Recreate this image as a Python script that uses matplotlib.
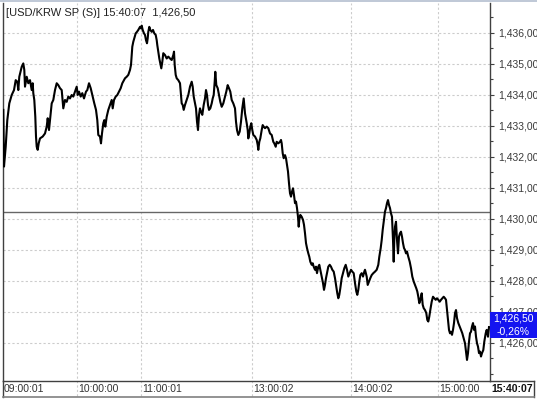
import matplotlib
matplotlib.use('Agg')
import matplotlib.pyplot as plt
import matplotlib.ticker as ticker
import matplotlib.transforms as mtransforms
from matplotlib.lines import Line2D
from matplotlib.patches import Rectangle

plt.rcParams['font.family'] = ['Liberation Sans', 'DejaVu Sans']

# ============================================================
# 데이터 (틱 순번 위치 / 체결가)
# ============================================================
TITLE = '[USD/KRW SP (S)] 15:40:07  '
PREV_CLOSE = 1430.2

pos_am = [
    0.3, 1.0, 2.7, 4.3, 6.3, 8.7, 11.0, 12.7, 14.3, 15.3,
    16.3, 18.7, 20.3, 21.3, 22.0, 23.7, 25.3, 27.0, 28.7, 29.7,
    30.3, 31.3, 32.3, 33.0, 33.7, 34.7, 35.7, 37.0, 39.7, 42.0,
    43.7, 44.7, 46.0, 47.0, 48.7, 50.3, 52.0, 53.7, 55.3, 57.0,
    58.7, 60.3, 62.0, 63.7, 65.3, 67.0, 68.7, 70.3, 72.0, 73.7,
    74.7, 76.0, 77.7, 79.3, 81.0, 83.0, 84.3, 86.0, 87.7, 89.7,
    91.3, 93.0, 94.3, 95.3, 97.0, 98.0, 99.0, 100.3, 101.3, 102.3,
    103.7, 105.3, 107.0, 108.7, 109.7, 111.0, 112.7, 114.3, 116.0, 117.7,
    119.3, 121.0,
]
price_am = [
    1433.51, 1431.68, 1432.32, 1433.18, 1433.72, 1433.99, 1434.15, 1434.47, 1434.42, 1434.15,
    1434.58, 1434.90, 1435.01, 1434.80, 1434.26, 1434.58, 1434.37, 1434.47, 1434.15, 1434.37,
    1434.05, 1433.83, 1433.29, 1432.65, 1432.32, 1432.22, 1432.43, 1432.59, 1432.65, 1432.75,
    1432.97, 1433.24, 1432.86, 1433.18, 1433.72, 1433.83, 1434.15, 1434.37, 1434.31, 1434.21,
    1434.15, 1433.56, 1433.83, 1433.77, 1433.94, 1433.88, 1433.99, 1433.94, 1434.10, 1434.26,
    1433.99, 1434.10, 1433.94, 1434.05, 1433.88, 1434.10, 1434.15, 1434.37, 1434.21, 1433.94,
    1433.72, 1433.51, 1433.18, 1432.70, 1432.65, 1432.43, 1432.75, 1433.08, 1433.18, 1432.97,
    1433.29, 1433.51, 1433.67, 1433.83, 1433.56, 1433.83, 1433.94, 1433.99, 1434.10, 1434.21,
    1434.37, 1434.47,
]

pos_mid = [
    122.0, 123.7, 125.3, 127.0, 128.0, 128.7, 129.3, 130.3, 131.3, 132.7,
    134.0, 135.3, 137.0, 138.0, 138.7, 139.7, 141.0, 142.0, 143.0, 144.0,
    144.7, 145.3, 146.3, 147.3, 148.7, 150.0, 151.3, 152.7, 153.7, 154.3,
    155.3, 156.3, 157.3, 158.3, 159.3, 160.3, 162.0, 163.7, 165.3, 167.0,
    168.7, 170.3, 171.0, 171.7, 172.7, 173.7, 175.3, 177.0, 178.0, 178.7,
    179.7, 180.7, 182.0, 183.7, 185.3, 187.0, 188.7, 189.7, 190.7, 192.0,
    193.0, 194.0, 195.0, 196.0, 197.0, 198.0, 199.3, 200.7, 202.0, 203.0,
    204.0, 205.0, 206.0, 207.3, 208.7, 209.7, 210.7, 211.7, 212.3, 213.3,
    214.7, 216.0, 217.3, 218.7, 220.3, 222.0, 223.3, 224.7, 226.0, 227.3,
    228.7, 230.3, 232.0, 233.0, 234.0, 235.3, 236.7, 238.0, 239.3, 240.7,
]
price_mid = [
    1434.53, 1434.58, 1434.64, 1434.80, 1434.96, 1435.28, 1435.55, 1435.71, 1435.82, 1435.98,
    1436.03, 1436.09, 1436.19, 1436.14, 1436.23, 1436.09, 1435.98, 1435.93, 1435.76, 1435.66,
    1435.82, 1436.03, 1436.19, 1436.09, 1436.03, 1436.09, 1435.98, 1435.93, 1435.76, 1435.60,
    1435.39, 1435.17, 1435.01, 1434.85, 1435.06, 1435.34, 1435.28, 1435.17, 1435.23, 1435.17,
    1435.12, 1435.28, 1435.39, 1434.96, 1434.64, 1434.53, 1434.47, 1434.37, 1433.99, 1433.72,
    1433.67, 1433.51, 1433.67, 1433.83, 1433.99, 1434.26, 1434.42, 1434.26, 1433.94, 1433.72,
    1433.56, 1433.13, 1432.86, 1433.35, 1433.56, 1433.45, 1433.35, 1433.67, 1433.88, 1434.15,
    1433.99, 1433.67, 1433.51, 1433.56, 1433.72, 1433.88, 1433.99, 1434.42, 1434.74, 1434.31,
    1434.21, 1433.99, 1433.77, 1433.61, 1433.72, 1433.94, 1434.10, 1434.31, 1434.21, 1434.10,
    1433.83, 1433.72, 1433.56, 1433.13, 1432.86, 1432.70, 1432.81, 1433.13, 1433.56, 1433.88,
]

pos_pm = [
    242.0, 243.7, 244.7, 245.3, 246.3, 247.3, 248.3, 249.3, 250.3, 252.0,
    253.7, 254.7, 255.3, 256.3, 257.3, 258.7, 259.7, 260.7, 262.0, 263.7,
    265.3, 267.0, 268.7, 270.3, 271.3, 272.7, 273.7, 275.3, 277.0, 278.0,
    278.7, 279.7, 280.7, 282.0, 283.0, 284.0, 285.0, 286.0, 287.0, 288.0,
    289.0, 290.0, 291.0, 292.0, 293.0, 294.0, 295.0, 295.7, 296.3, 297.3,
    298.7, 300.0, 301.0, 302.0, 303.0, 304.0, 305.3, 306.3, 307.3, 308.7,
    309.7, 310.7, 312.0, 313.0, 314.0, 315.3, 316.3, 317.3, 318.7, 320.0,
    321.0, 322.0, 323.0, 324.0, 325.3, 326.7, 328.0, 329.3, 330.7, 332.0,
    333.3, 334.3, 335.3, 336.3, 337.3, 338.7, 340.0, 341.3, 342.7, 344.0,
    345.3, 346.7, 348.0, 349.3, 350.7, 352.0, 353.3, 354.3, 355.3, 356.3,
    357.3, 358.7, 360.0, 361.3,
]
price_pm = [
    1433.40, 1433.08, 1432.86, 1432.59, 1432.75, 1432.97, 1433.08, 1432.86, 1432.70, 1432.65,
    1432.54, 1432.38, 1432.22, 1432.48, 1432.59, 1432.86, 1433.02, 1432.97, 1432.92, 1432.97,
    1432.92, 1432.75, 1432.70, 1432.48, 1432.43, 1432.32, 1432.48, 1432.43, 1432.48, 1432.54,
    1432.43, 1432.11, 1431.95, 1432.05, 1431.95, 1431.73, 1431.52, 1431.14, 1430.82, 1430.71,
    1430.87, 1430.98, 1430.76, 1430.50, 1430.55, 1430.34, 1430.06, 1429.74, 1429.96, 1430.12,
    1430.06, 1429.96, 1429.80, 1429.53, 1429.21, 1429.05, 1428.88, 1428.77, 1428.61, 1428.51,
    1428.56, 1428.45, 1428.35, 1428.45, 1428.24, 1428.45, 1428.51, 1428.35, 1428.13, 1427.92,
    1427.70, 1427.86, 1428.08, 1428.24, 1428.45, 1428.51, 1428.45, 1428.35, 1428.29, 1428.08,
    1427.81, 1427.59, 1427.43, 1427.54, 1427.75, 1428.08, 1428.24, 1428.40, 1428.51, 1428.35,
    1428.13, 1428.24, 1428.35, 1428.29, 1428.24, 1427.92, 1427.65, 1427.54, 1427.70, 1427.97,
    1428.18, 1428.24, 1428.13, 1428.29,
]

pos_close = [
    362.0, 363.7, 364.7, 366.0, 367.3, 368.7, 370.3, 372.0, 373.7, 375.3,
    376.3, 377.7, 378.7, 379.7, 381.0, 382.0, 383.0, 384.0, 385.0, 386.0,
    387.0, 388.0, 389.0, 390.0, 390.7, 391.3, 392.0, 393.0, 394.0, 395.0,
    396.0, 397.0, 398.0, 399.0, 400.0, 401.0, 402.0, 403.0, 404.0, 405.3,
    406.7, 408.0, 409.3, 410.7, 412.0, 413.3, 414.3, 415.3, 416.3, 417.3,
    418.7, 419.7, 420.7, 422.0, 423.3, 424.3, 425.3, 426.3, 427.3, 428.7,
    430.0, 431.3, 432.7, 434.0, 435.3, 436.7, 438.0, 439.3, 440.7, 442.0,
    443.0, 444.0, 445.0, 446.0, 447.0, 448.0, 449.0, 450.0, 451.0, 452.0,
    453.0, 454.0, 455.3, 456.7, 458.0, 459.3, 460.7, 462.0, 463.0, 464.0,
    465.0, 466.0, 467.0, 468.0, 469.0, 470.0, 471.0, 472.0, 473.0, 474.0,
    475.0, 476.0, 477.0, 478.0, 479.0, 480.3, 481.3, 482.7, 483.7, 485.0,
    486.0,
]
price_close = [
    1428.35, 1428.13, 1427.86, 1427.97, 1428.08, 1428.18, 1428.24, 1428.29, 1428.35, 1428.51,
    1428.77, 1429.05, 1429.31, 1429.64, 1429.96, 1430.23, 1430.34, 1430.50, 1430.60, 1430.44,
    1430.34, 1430.17, 1430.06, 1429.31, 1428.61, 1429.31, 1429.74, 1429.90, 1429.31, 1428.88,
    1429.42, 1429.53, 1429.58, 1429.42, 1429.21, 1429.05, 1428.99, 1428.88, 1428.94, 1428.77,
    1428.61, 1428.40, 1428.13, 1427.97, 1427.86, 1427.75, 1427.65, 1427.48, 1427.27, 1427.38,
    1427.59, 1427.22, 1427.11, 1427.05, 1426.95, 1426.73, 1426.68, 1426.84, 1427.05, 1427.32,
    1427.48, 1427.43, 1427.38, 1427.43, 1427.38, 1427.32, 1427.38, 1427.43, 1427.48, 1427.43,
    1427.38, 1427.05, 1426.73, 1426.41, 1426.30, 1426.35, 1426.25, 1426.41, 1426.63, 1426.95,
    1427.05, 1426.79, 1426.63, 1426.52, 1426.41, 1426.30, 1426.14, 1425.98, 1425.71, 1425.44,
    1425.66, 1426.03, 1426.30, 1426.35, 1426.52, 1426.63, 1426.41, 1426.52, 1426.19, 1425.98,
    1425.87, 1425.66, 1425.71, 1425.55, 1425.66, 1425.76, 1426.03, 1426.30, 1426.41, 1426.19,
    1426.50,
]

time_ticks = [0, 74, 138, 249, 348, 435]
time_labels = ['09:00:01', '10:00:00', '11:00:01', '13:00:02', '14:00:02', '15:00:00']
last_time = '15:40:07'
price_levels = [1426, 1427, 1428, 1429, 1430, 1431, 1432, 1433, 1434, 1435, 1436]

pos = pos_am + pos_mid + pos_pm + pos_close
price = price_am + price_mid + price_pm + price_close
last = price[-1]
chg = (last - PREV_CLOSE) / PREV_CLOSE * 100


def kfmt(v, nd=2):
    # 소수점 표시를 콤마로
    return f'{v:,.{nd}f}'.replace('.', ',')


# ============================================================
# 그림
# ============================================================
W, H = 537, 399
fig = plt.figure(figsize=(W / 100, H / 100), dpi=100)
fig.patch.set_facecolor('white')
ax = fig.add_axes([3 / W, 1 - 381 / H, (489.5 - 3) / W, (381 - 3) / H])

FRAME = '#404040'
GRID = '#cccccc'

ax.plot(pos, price, color='black', linewidth=1.5, zorder=3)
ax.axhline(PREV_CLOSE, color='#666666', linewidth=1.0, zorder=2)

ax.set_xlim(0, 486.5)
ax.set_ylim(1424.76, 1436.96)

ax.spines['top'].set_visible(False)
for s in ['left', 'right', 'bottom']:
    ax.spines[s].set_color(FRAME)
    ax.spines[s].set_linewidth(1.0)

# y 축 (오른쪽)
ax.yaxis.tick_right()
ax.set_yticks(price_levels)
ax.yaxis.set_minor_locator(ticker.MultipleLocator(0.5))
ax.yaxis.set_major_formatter(ticker.FuncFormatter(lambda v, p: kfmt(v)))
ax.tick_params(axis='y', which='major', direction='out', length=3, width=0.8,
               color=FRAME, pad=3, labelsize=7.5, labelcolor='#3a3a3a')
ax.tick_params(axis='y', which='minor', direction='out', length=2, width=0.8, color=FRAME)
ax.grid(axis='y', which='major', color=GRID, linestyle=(0, (2, 2)), linewidth=0.8)

# x 축
ax.set_xticks([])
trans = mtransforms.blended_transform_factory(ax.transData, ax.transAxes)
for tp, tl in zip(time_ticks, time_labels):
    if tp > 0:
        ax.add_line(Line2D([tp, tp], [-0.04, 1], transform=trans, color=GRID,
                           linestyle=(0, (2, 2)), linewidth=0.8, clip_on=False, zorder=1))
    ax.text(tp + 1, -0.02, tl, transform=trans, ha='left', va='center',
            fontsize=7.5, color='#333333')
fig.text(533 / W, 1 - 388.5 / H, last_time, ha='right', va='center',
         fontsize=7.5, fontweight='bold', color='#111111')

# 프레임
def fline(x0, y0, x1, y1, color, lw=1.0):
    fig.add_artist(Line2D([x0 / W, x1 / W], [1 - y0 / H, 1 - y1 / H],
                          color=color, linewidth=lw))

fline(0, 1.2, W, 1.2, '#b4bfcf', 1.2)
fline(3, 381, 3, 396.5, FRAME)
fline(489.5, 381, 534, 381, FRAME)
fline(533.5, 381, 533.5, 396.5, FRAME)
fline(3, 396.5, 534, 396.5, '#808080', 1.2)

# 현재가 박스
btrans = mtransforms.blended_transform_factory(fig.transFigure, ax.transData)
ax.add_patch(Rectangle((490 / W, last - 0.36), 47 / W, 0.84, transform=btrans,
                       facecolor='#1414f0', edgecolor='none', clip_on=False, zorder=5))
ax.text(513.5 / W, last + 0.27, kfmt(last), transform=btrans, ha='center', va='center',
        color='white', fontsize=7.5, zorder=6, clip_on=False)
ax.text(513.5 / W, last - 0.15, kfmt(chg) + '%', transform=btrans, ha='center', va='center',
        color='white', fontsize=7.5, zorder=6, clip_on=False)

# 제목
fig.text(6 / W, 1 - 13 / H, TITLE + kfmt(last), ha='left', va='center',
         fontsize=8, color='#222222')

fig.savefig('out.png', dpi=100)
